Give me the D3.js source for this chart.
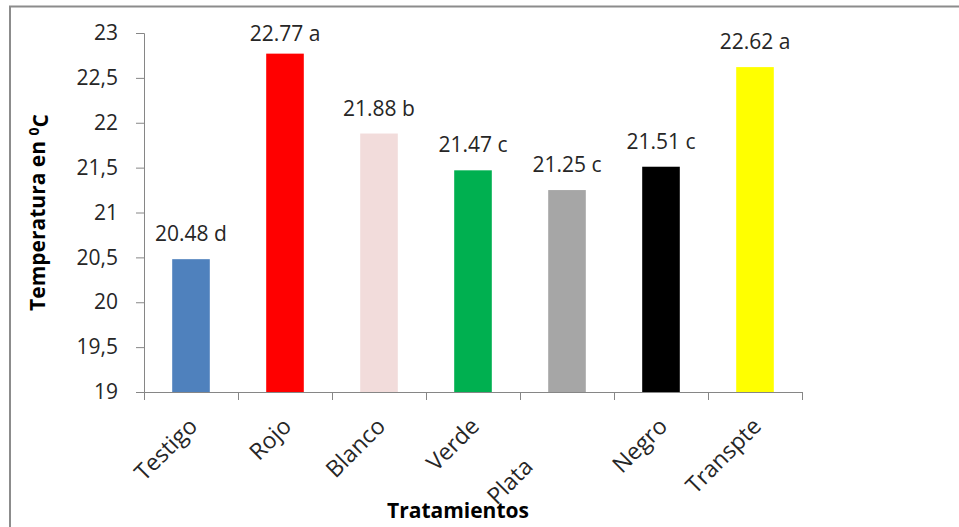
<!DOCTYPE html>
<html>
<head>
<meta charset="utf-8">
<script src="https://cdn.jsdelivr.net/npm/d3@7"></script>
<style>
  html, body { margin: 0; padding: 0; background: #fff; }
  svg { display: block; font-family: "Open Sans", "Liberation Sans", sans-serif; }
</style>
</head>
<body>
<svg id="chart" width="959" height="527"></svg>
<script>
// Temperature per mulch treatment, with significance letters
const categories = ["Testigo", "Rojo", "Blanco", "Verde", "Plata", "Negro", "Transpte"];
const values = [20.48, 22.77, 21.88, 21.47, 21.25, 21.51, 22.62];
const letters = ["d", "a", "b", "c", "c", "c", "a"];
const barColors = ["#4F81BD", "#FF0000", "#F2DCDB", "#00B050", "#A6A6A6", "#000000", "#FFFF00"];
const yTicks = [19, 19.5, 20, 20.5, 21, 21.5, 22, 22.5, 23];

const svg = d3.select("#chart");
const plot = { left: 144, right: 802, top: 33, bottom: 392 };

// chart area frame (top and left edges visible)
svg.append("path")
  .attr("d", "M10,527 V6.5 H959")
  .attr("fill", "none")
  .attr("stroke", "#8c8c8c")
  .attr("stroke-width", 2);

const x = d3.scaleBand()
  .domain(categories)
  .range([plot.left, plot.right])
  .paddingInner(0.6)
  .paddingOuter(0.3);

const y = d3.scaleLinear().domain([19, 23]).range([plot.bottom, plot.top]);

const axisColor = "#868686";
const textColor = "#262626";

// y axis
const yAxis = svg.append("g")
  .attr("transform", `translate(${plot.left},0)`)
  .call(d3.axisLeft(y).tickValues(yTicks).tickSize(8).tickPadding(18)
    .tickFormat(d => String(d).replace(".", ",")));
yAxis.select(".domain").attr("stroke", axisColor);
yAxis.selectAll(".tick line").attr("stroke", axisColor);
yAxis.selectAll(".tick text")
  .attr("fill", textColor)
  .style("font-size", "21px")
  .style("font-family", "'Open Sans', sans-serif");

// x axis: ticks sit on the band boundaries
const step = x.step();
const boundaries = d3.range(categories.length + 1).map(i => plot.left + i * step);
svg.append("line")
  .attr("x1", plot.left).attr("x2", plot.right)
  .attr("y1", plot.bottom + 0.5).attr("y2", plot.bottom + 0.5)
  .attr("stroke", axisColor);
svg.append("g").selectAll("line")
  .data(boundaries)
  .join("line")
  .attr("x1", d => Math.round(d) + 0.5).attr("x2", d => Math.round(d) + 0.5)
  .attr("y1", plot.bottom).attr("y2", plot.bottom + 8)
  .attr("stroke", axisColor);

// bars
svg.append("g").selectAll("rect")
  .data(categories)
  .join("rect")
  .attr("x", d => x(d))
  .attr("width", x.bandwidth())
  .attr("y", (d, i) => y(values[i]))
  .attr("height", (d, i) => y(19) - y(values[i]))
  .attr("fill", (d, i) => barColors[i]);

// value labels
svg.append("g").selectAll("text")
  .data(categories)
  .join("text")
  .attr("x", d => x(d) + x.bandwidth() / 2)
  .attr("y", (d, i) => Math.max(y(values[i]) - 18, 41))
  .attr("text-anchor", "middle")
  .attr("fill", textColor)
  .style("font-size", "21px")
  .text((d, i) => `${values[i].toFixed(2)} ${letters[i]}`);

// category labels, rotated 45 degrees
const labelShift = { Plata: 57 };
svg.append("g").selectAll("text")
  .data(categories)
  .join("text")
  .attr("transform", d => {
    const cx = x(d) + x.bandwidth() / 2 + 2;
    const s = (labelShift[d] || 0) / Math.SQRT2;
    return `translate(${cx - s},${422 + s}) rotate(-45)`;
  })
  .attr("text-anchor", "end")
  .attr("dy", "0.35em")
  .attr("fill", textColor)
  .style("font-size", "23px")
  .text(d => d);

// axis titles
svg.append("text")
  .attr("x", 458).attr("y", 518)
  .attr("text-anchor", "middle")
  .attr("fill", "#000")
  .style("font-size", "21px")
  .style("font-weight", "bold")
  .text("Tratamientos");

const yTitle = svg.append("text")
  .attr("transform", `translate(45,${(plot.top + plot.bottom) / 2}) rotate(-90)`)
  .attr("text-anchor", "middle")
  .attr("fill", "#000")
  .style("font-size", "21px")
  .style("font-weight", "bold");
yTitle.append("tspan").text("Temperatura en ");
yTitle.append("tspan").attr("dy", "-0.45em").style("font-size", "14px").text("0");
yTitle.append("tspan").attr("dy", "0.45em").text("C");
</script>
</body>
</html>
